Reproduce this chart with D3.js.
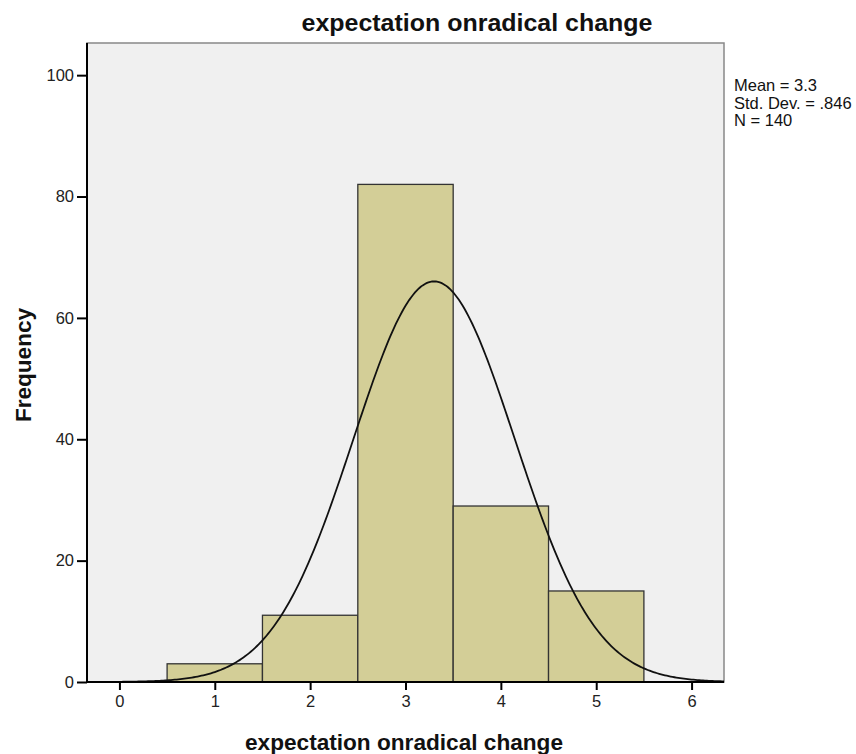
<!DOCTYPE html>
<html>
<head>
<meta charset="utf-8">
<script src="https://cdn.jsdelivr.net/npm/d3@7"></script>
<style>
  body { margin: 0; background: #fff; }
  svg text { font-family: "Liberation Sans", Arial, sans-serif; }
</style>
</head>
<body>
<svg id="chart" width="856" height="754"></svg>
<script>
// Histogram of "expectation onradical change" with normal curve overlay.

const binStarts = [0.5, 1.5, 2.5, 3.5, 4.5];
const binEnds = [1.5, 2.5, 3.5, 4.5, 5.5];
const counts = [3, 11, 82, 29, 15];
const xTicks = [0, 1, 2, 3, 4, 5, 6];
const yTicks = [0, 20, 40, 60, 80, 100];
const statsLabels = ['Mean = 3.3', 'Std. Dev. = .846', 'N = 140'];
const mean = 3.3;
const stdDev = 0.846;
const n = 140;

const svg = d3.select('#chart');
const plot = { left: 87, right: 724, top: 43, bottom: 682 };

const x = d3.scaleLinear().domain([-0.34, 6.34]).range([plot.left, plot.right]);
const y = d3.scaleLinear().domain([0, 105.3]).range([plot.bottom, plot.top]);

// Plot background
svg.append('rect')
  .attr('x', plot.left).attr('y', plot.top)
  .attr('width', plot.right - plot.left).attr('height', plot.bottom - plot.top)
  .attr('fill', '#f0f0f0')
  .attr('stroke', '#888').attr('stroke-width', 1.5);

// Bars
svg.append('g').selectAll('rect')
  .data(counts)
  .join('rect')
  .attr('x', (d, i) => x(binStarts[i]))
  .attr('y', d => y(d))
  .attr('width', (d, i) => x(binEnds[i]) - x(binStarts[i]))
  .attr('height', d => y(0) - y(d))
  .attr('fill', '#d3ce97')
  .attr('stroke', '#333')
  .attr('stroke-width', 1.3);

// Normal curve from the reported statistics
const binWidth = binEnds[0] - binStarts[0];
const curveX = d3.range(x.domain()[0], x.domain()[1] + 0.001, 0.02);
const density = v => n * binWidth / (stdDev * Math.sqrt(2 * Math.PI)) *
  Math.exp(-0.5 * Math.pow((v - mean) / stdDev, 2));

svg.append('path')
  .datum(curveX)
  .attr('fill', 'none')
  .attr('stroke', '#111')
  .attr('stroke-width', 1.8)
  .attr('d', d3.line().x(d => x(d)).y(d => y(density(d))));

// Axes
const xAxis = svg.append('g')
  .attr('transform', `translate(0,${plot.bottom})`)
  .call(d3.axisBottom(x).tickValues(xTicks).tickSize(8).tickPadding(5).tickFormat(d3.format('d')));
const yAxis = svg.append('g')
  .attr('transform', `translate(${plot.left},0)`)
  .call(d3.axisLeft(y).tickValues(yTicks).tickSize(10).tickPadding(3).tickFormat(d3.format('d')));

[xAxis, yAxis].forEach(a => {
  a.select('.domain').attr('stroke', '#000').attr('stroke-width', 2);
  a.selectAll('.tick line').attr('stroke', '#000').attr('stroke-width', 2);
  a.selectAll('.tick text').attr('fill', '#222').style('font-size', '16.5px');
});
xAxis.select('.domain').attr('d', `M${plot.left},0H${plot.right}`);
yAxis.select('.domain').attr('d', `M0,${plot.top}V${plot.bottom}`);

// Title and axis labels
svg.append('text')
  .attr('x', 477).attr('y', 31)
  .attr('text-anchor', 'middle')
  .attr('textLength', 351).attr('lengthAdjust', 'spacingAndGlyphs')
  .style('font-size', '23px').style('font-weight', 'bold')
  .attr('fill', '#111')
  .text('expectation onradical change');

svg.append('text')
  .attr('x', 404).attr('y', 750)
  .attr('text-anchor', 'middle')
  .attr('textLength', 318).attr('lengthAdjust', 'spacingAndGlyphs')
  .style('font-size', '22px').style('font-weight', 'bold')
  .attr('fill', '#111')
  .text('expectation onradical change');

svg.append('text')
  .attr('transform', 'translate(31,365) rotate(-90)')
  .attr('text-anchor', 'middle')
  .attr('textLength', 114).attr('lengthAdjust', 'spacingAndGlyphs')
  .style('font-size', '22px').style('font-weight', 'bold')
  .attr('fill', '#111')
  .text('Frequency');

// Statistics legend
svg.append('g').selectAll('text')
  .data(statsLabels)
  .join('text')
  .attr('x', 734)
  .attr('y', (d, i) => 91 + i * 17.5)
  .style('font-size', '16.5px')
  .attr('fill', '#111')
  .text(d => d);
</script>
</body>
</html>
